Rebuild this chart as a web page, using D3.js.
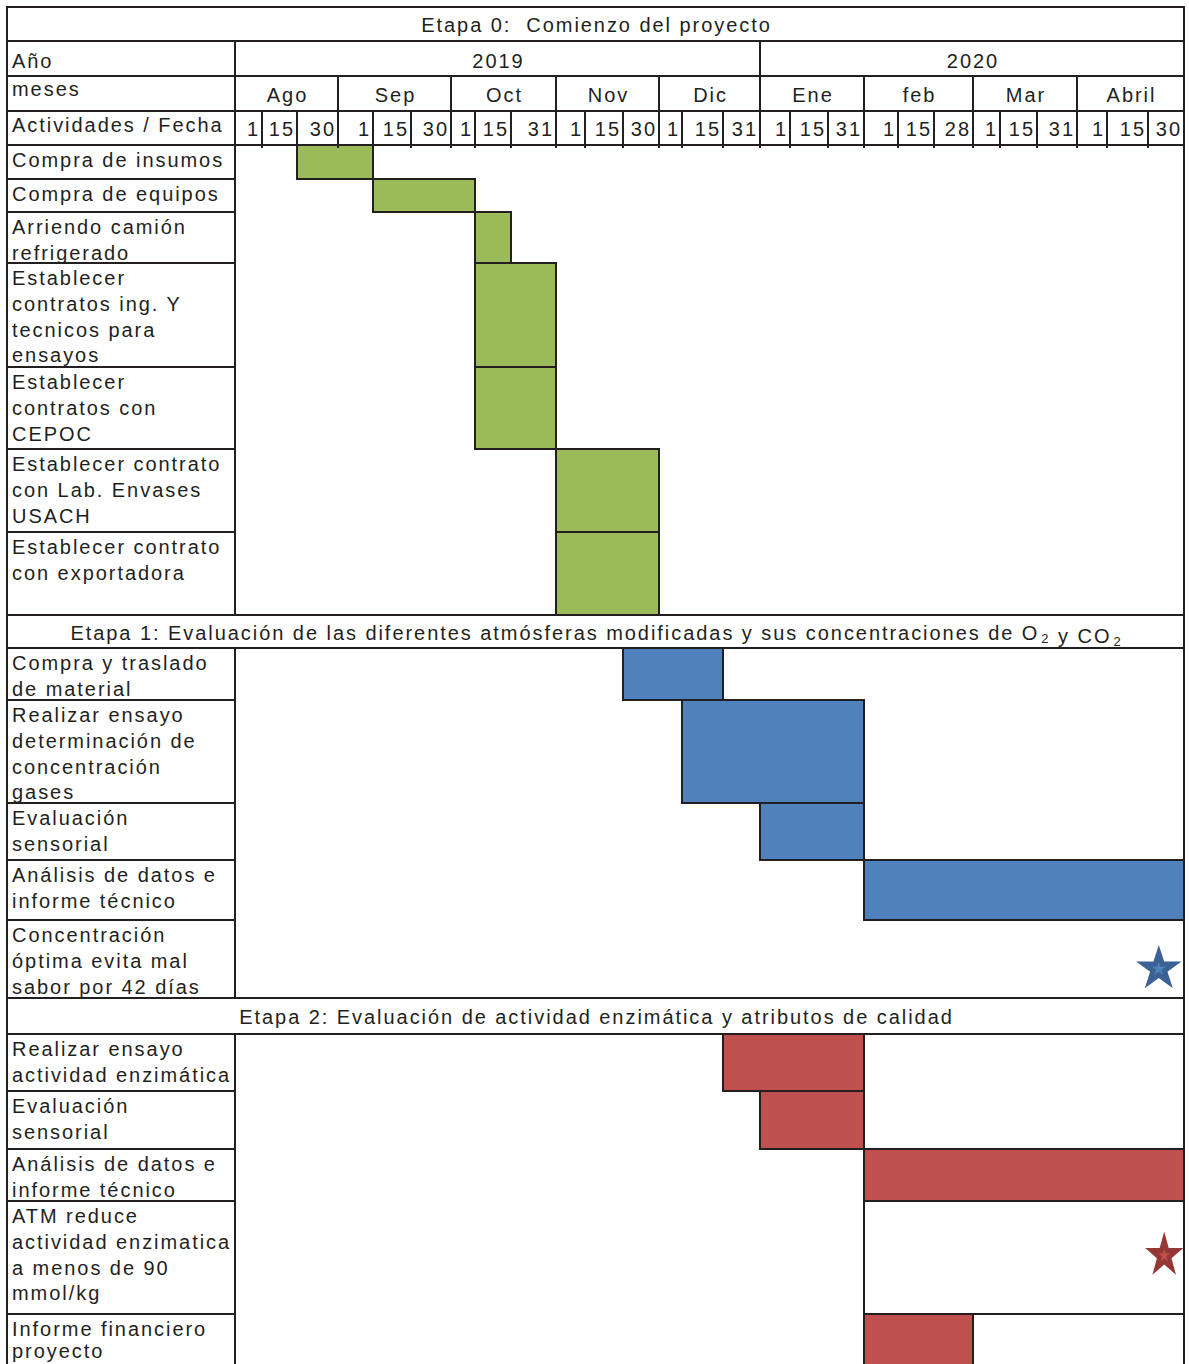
<!DOCTYPE html>
<html>
<head>
<meta charset="utf-8">
<title>Carta Gantt del proyecto</title>
<script src="https://d3js.org/d3.v7.min.js"></script>
<style>
  body { margin: 0; background: #fff; }
  svg text { font-family: "Liberation Sans", Arial, sans-serif; font-size: 20px; fill: #231f20; letter-spacing: 1.95px; white-space: pre; }
</style>
</head>
<body>
<svg width="1189" height="1364"></svg>

<script>
// calendario
const anios = ["2019", "2020"];
const mesesPorAnio = [5, 4];
const meses = ["Ago", "Sep", "Oct", "Nov", "Dic", "Ene", "feb", "Mar", "Abril"];
const fechas = ["1", "15", "30", "1", "15", "30", "1", "15", "31",
                "1", "15", "30", "1", "15", "31", "1", "15", "31",
                "1", "15", "28", "1", "15", "31", "1", "15", "30"];

const etapas = [
  "Etapa 0:  Comienzo del proyecto",
  "Etapa 1: Evaluación de las diferentes atmósferas modificadas y sus concentraciones de O_2 y CO_2",
  "Etapa 2: Evaluación de actividad enzimática y atributos de calidad"
];

// inicio / fin = índice de columna de fecha (0 = "1 Ago", 27 = fin de Abril)
const etapa0 = [
  {nombre: "Compra de insumos", inicio: 2, fin: 4},
  {nombre: "Compra de equipos", inicio: 4, fin: 7},
  {nombre: "Arriendo camión\nrefrigerado", inicio: 7, fin: 8},
  {nombre: "Establecer\ncontratos ing. Y\ntecnicos para\nensayos", inicio: 7, fin: 9},
  {nombre: "Establecer\ncontratos con\nCEPOC", inicio: 7, fin: 9},
  {nombre: "Establecer contrato\ncon Lab. Envases\nUSACH", inicio: 9, fin: 12},
  {nombre: "Establecer contrato\ncon exportadora", inicio: 9, fin: 12}
];
const etapa1 = [
  {nombre: "Compra y traslado\nde material", inicio: 11, fin: 14},
  {nombre: "Realizar ensayo\ndeterminación de\nconcentración\ngases", inicio: 13, fin: 18},
  {nombre: "Evaluación\nsensorial", inicio: 15, fin: 18},
  {nombre: "Análisis de datos e\ninforme técnico", inicio: 18, fin: 27},
  {nombre: "Concentración\nóptima evita mal\nsabor por 42 días", hito: 26.3}
];
const etapa2 = [
  {nombre: "Realizar ensayo\nactividad enzimática", inicio: 14, fin: 18},
  {nombre: "Evaluación\nsensorial", inicio: 15, fin: 18},
  {nombre: "Análisis de datos e\ninforme técnico", inicio: 18, fin: 27},
  {nombre: "ATM reduce\nactividad enzimatica\na menos de 90\nmmol/kg", inicio: 18, fin: 27, vacio: true, hito: 26.45},
  {nombre: "Informe financiero\nproyecto", inicio: 18, fin: 21}
];

const colores = ["#9bbb59", "#4f81bd", "#c0504d"];
const coloresHito = ["#9bbb59", "#3c6295", "#953735"];

// layout de la planilla
const colEdges = [235, 262, 297, 338, 373, 411, 451, 475, 511, 556, 585, 623, 659, 682,
                  723, 760, 790, 828, 864, 898, 934, 973, 1000, 1037, 1077, 1107, 1148, 1184];
const alturas = [34, 35, 35, 34,
                 34, 33, 51, 104, 82, 83, 83,
                 33, 52, 103, 57, 60, 78,
                 36, 57, 58, 52, 113, 60];
const hitoDy = [0, 10, -2];
const tLeft = 7, tRight = 1184, tTop = 7;
const labelX = 12, lineH = 25.8;
const H = 1364;

const svg = d3.select("svg");

// filas
const filas = [
  {tipo: "titulo", texto: etapas[0]},
  {tipo: "anio", texto: "Año"},
  {tipo: "mes", texto: "meses"},
  {tipo: "fecha", texto: "Actividades / Fecha"}
];
[etapa0, etapa1, etapa2].forEach((acts, e) => {
  if (e > 0) filas.push({tipo: "titulo", texto: etapas[e]});
  acts.forEach(a => filas.push(Object.assign({tipo: "act", etapa: e}, a)));
});

const bordes = [tTop];
alturas.forEach(h => bordes.push(bordes[bordes.length - 1] + h));

const x = d3.scaleLinear().domain(d3.range(colEdges.length)).range(colEdges);
const y = d3.scaleLinear().domain(d3.range(bordes.length)).range(bordes);
filas.forEach((f, i) => f.i = i);
const acts = filas.filter(f => f.tipo === "act");
const tBottom = y(filas.length);

// barras
const stroke = "#231f20";
svg.append("g").selectAll("rect")
  .data(acts.filter(d => d.inicio !== undefined))
  .join("rect")
  .attr("x", d => x(d.inicio))
  .attr("y", d => y(d.i))
  .attr("width", d => x(d.fin) - x(d.inicio))
  .attr("height", d => y(d.i + 1) - y(d.i))
  .attr("fill", d => d.vacio ? "none" : colores[d.etapa])
  .attr("stroke", stroke)
  .attr("stroke-width", 2);

// hitos (estrellas)
const hitos = acts.filter(d => d.hito !== undefined);
const gh = svg.append("g").selectAll("g")
  .data(hitos)
  .join("g")
  .attr("transform", d => `translate(${x(d.hito)},${(y(d.i) + y(d.i + 1)) / 2 + hitoDy[d.etapa]}) scale(${d.etapa === 2 ? 0.84 : 1},1)`);
gh.append("path")
  .attr("d", d3.symbol(d3.symbolStar, 640))
  .attr("fill", d => coloresHito[d.etapa]);
gh.append("path")
  .attr("d", d3.symbol(d3.symbolStar, 60))
  .attr("fill", d => colores[d.etapa]);

// líneas de la tabla
const lineas = [];
const hline = (x1, x2, yy) => lineas.push([x1, yy, x2, yy]);
const vline = (xx, y1, y2) => lineas.push([xx, y1, xx, y2]);

[0, 1, 2, 3, 4].forEach(i => hline(tLeft, tRight, y(i)));
filas.forEach(f => {
  if (f.tipo === "titulo" && f.i > 0) {
    hline(tLeft, tRight, y(f.i));
    hline(tLeft, tRight, y(f.i + 1));
  }
  if (f.tipo === "act") hline(tLeft, x(0), y(f.i + 1));
  if (f.tipo !== "titulo") vline(x(0), y(f.i), y(f.i + 1));
});
vline(tLeft, y(0), tBottom);
vline(tRight, y(0), tBottom);

let acc = 0;
mesesPorAnio.forEach(n => { acc += n; vline(x(acc * 3), y(1), y(2)); });
meses.forEach((m, k) => vline(x(k * 3 + 3), y(2), y(3)));
fechas.forEach((f, k) => vline(x(k + 1), y(3), y(4) + 2));

svg.append("g").selectAll("line")
  .data(lineas)
  .join("line")
  .attr("x1", d => d[0]).attr("y1", d => d[1])
  .attr("x2", d => d[2]).attr("y2", d => d[3])
  .attr("stroke", stroke)
  .attr("stroke-width", 2)
  .attr("stroke-linecap", "square");

// textos
const gt = svg.append("g");

// títulos de etapa (con subíndices)
filas.filter(f => f.tipo === "titulo").forEach(f => {
  const t = gt.append("text")
    .attr("x", (tLeft + tRight) / 2 + 1)
    .attr("y", (y(f.i) + y(f.i + 1)) / 2 + 8)
    .attr("text-anchor", "middle");
  f.texto.split(/(_\d)/).forEach(part => {
    if (part.startsWith("_")) {
      t.append("tspan").attr("font-size", "13px").attr("dy", 3).attr("dx", 2).text(part.slice(1));
      t.append("tspan").attr("dy", -3).text("");
    } else {
      t.append("tspan").text(part);
    }
  });
});

// encabezados de la columna izquierda
gt.append("text").attr("x", labelX).attr("y", y(1) + 27).text("Año");
gt.append("text").attr("x", labelX).attr("y", y(2) + 20).text("meses");
gt.append("text").attr("x", labelX).attr("y", y(3) + 21).text("Actividades / Fecha");

// años
acc = 0;
anios.forEach((a, k) => {
  const c0 = acc * 3; acc += mesesPorAnio[k];
  gt.append("text")
    .attr("x", (x(c0) + x(acc * 3)) / 2 + 1)
    .attr("y", y(1) + 27)
    .attr("text-anchor", "middle")
    .text(a);
});

// meses
gt.selectAll(".mes")
  .data(meses)
  .join("text")
  .attr("class", "mes")
  .attr("x", (d, k) => (x(k * 3) + x(k * 3 + 3)) / 2 + 1)
  .attr("y", y(2) + 26)
  .attr("text-anchor", "middle")
  .text(d => d);

// fechas
gt.selectAll(".fecha")
  .data(fechas)
  .join("text")
  .attr("class", "fecha")
  .attr("x", (d, k) => x(k + 1) - 2)
  .attr("y", y(3) + 25)
  .attr("text-anchor", "end")
  .text(d => d);

// nombres de actividades (la última línea no debe salir del cuadro)
acts.forEach(a => {
  const y0 = y(a.i) + 22;
  a.nombre.split("\n").forEach((ln, k) => {
    gt.append("text")
      .attr("x", labelX)
      .attr("y", Math.min(y0 + k * lineH, H - 6))
      .text(ln);
  });
});
</script>
</body>
</html>
